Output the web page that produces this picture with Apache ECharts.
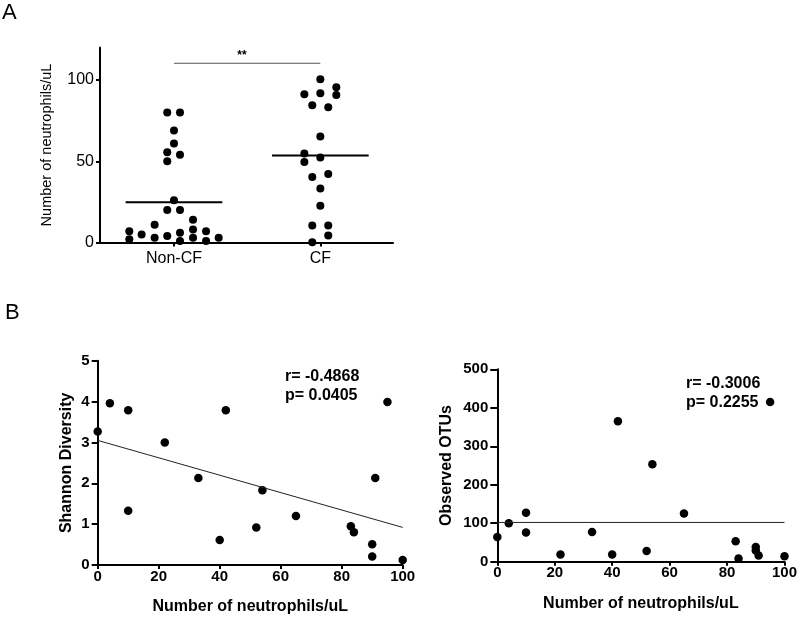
<!DOCTYPE html>
<html>
<head>
<meta charset="utf-8">
<script src="https://cdn.jsdelivr.net/npm/echarts@6/dist/echarts.min.js"></script>
<style>
  html, body { margin: 0; padding: 0; background: #fff; }
  #main { width: 800px; height: 619px; }
</style>
</head>
<body>
<div id="main"></div>
<script>
// panel A: neutrophil counts per group (x = jittered group position)
const groupLabels = ['Non-CF', 'CF']
const groupCenters = [0.505, 1.504]
const nonCfX = [0.459, 0.546, 0.505, 0.505, 0.459, 0.546, 0.459, 0.505, 0.459, 0.546, 0.635, 0.373,
  0.2, 0.284, 0.459, 0.546, 0.635, 0.724, 0.2, 0.373, 0.546, 0.635, 0.724, 0.81]
const nonCfY = [80, 80, 69, 61, 55.5, 54, 50, 26, 20, 20, 14, 11,
  7, 5, 4, 6, 8, 7, 2, 3, 1, 3, 1, 3]
const cfX = [1.504, 1.613, 1.395, 1.504, 1.613, 1.449, 1.558, 1.504, 1.395, 1.504, 1.395, 1.558,
  1.449, 1.504, 1.504, 1.449, 1.558, 1.558, 1.449]
const cfY = [100.4, 95.5, 91.2, 91.8, 90.7, 84.4, 83.3, 65.2, 54.7, 52.3, 49.6, 42.2,
  40.3, 33.3, 22.6, 10.5, 10.5, 4.3, 0.2]
const groupMeans = [24.7, 53.5]
const sigBarY = 110.3

// panel B: correlations
const neutrophils = [0, 4, 10, 10, 22, 33, 40, 42, 52, 54, 65, 83, 84, 90, 90, 91, 95, 100]
const shannon = [3.27, 3.96, 3.79, 1.33, 3.0, 2.13, 0.61, 3.79, 0.92, 1.83, 1.2, 0.95, 0.8, 0.51, 0.21, 2.13, 3.99, 0.12]
const otus = [64, 100, 127, 76, 19, 77, 19, 365, 28, 253, 125, 53, 8, 38, 29, 16, 415, 14]
const shannonFit = [[0, 3.05], [100, 0.92]]
const otuFit = [[0, 102], [100, 102]]

const FONT = 'Liberation Sans, Arial, sans-serif'
const zip = (xs, ys) => xs.map((x, i) => [x, ys[i]])
const meanHalf = 0.33

const axisLine = { show: true, lineStyle: { color: '#000', width: 2 } }
const boldLabel = { color: '#000', fontFamily: FONT, fontSize: 15, fontWeight: 'bold' }
const dot = { color: '#000', opacity: 1 }

const chart = echarts.init(document.getElementById('main'))

const option = {
  animation: false,
  grid: [
    { left: 100, right: 407, top: 47.5, bottom: 376.5 },
    { left: 97.7, right: 397.3, top: 360.7, bottom: 54 },
    { left: 497.3, right: 12.7, top: 369.3, bottom: 57.3 }
  ],
  xAxis: [
    {
      gridIndex: 0, type: 'value', min: 0, max: 2,
      axisLine: axisLine,
      axisTick: { show: true, length: 4, customValues: groupCenters, lineStyle: { color: '#000', width: 2 } },
      axisLabel: {
        customValues: groupCenters, margin: 8,
        formatter: v => groupLabels[groupCenters.indexOf(v)],
        color: '#000', fontFamily: FONT, fontSize: 16
      },
      splitLine: { show: false }
    },
    {
      gridIndex: 1, type: 'value', min: 0, max: 100, interval: 20,
      name: 'Number of neutrophils/uL', nameLocation: 'middle', nameGap: 34,
      nameTextStyle: { color: '#000', fontFamily: FONT, fontSize: 16, fontWeight: 'bold' },
      axisLine: axisLine,
      axisTick: { show: true, length: 4, lineStyle: { color: '#000', width: 2 } },
      axisLabel: Object.assign({ margin: 4 }, boldLabel),
      splitLine: { show: false }
    },
    {
      gridIndex: 2, type: 'value', min: 0, max: 100, interval: 20,
      name: 'Number of neutrophils/uL', nameLocation: 'middle', nameGap: 34,
      nameTextStyle: { color: '#000', fontFamily: FONT, fontSize: 16, fontWeight: 'bold' },
      axisLine: axisLine,
      axisTick: { show: true, length: 4, lineStyle: { color: '#000', width: 2 } },
      axisLabel: Object.assign({ margin: 4 }, boldLabel),
      splitLine: { show: false }
    }
  ],
  yAxis: [
    {
      gridIndex: 0, type: 'value', min: 0, max: 120,
      name: 'Number of neutrophils/uL', nameLocation: 'middle', nameGap: 46,
      nameTextStyle: { color: '#000', fontFamily: FONT, fontSize: 14.5 },
      axisLine: axisLine,
      axisTick: { show: true, length: 4, customValues: [0, 50, 100], lineStyle: { color: '#000', width: 2 } },
      axisLabel: { customValues: [0, 50, 100], margin: 6, color: '#000', fontFamily: FONT, fontSize: 16 },
      splitLine: { show: false }
    },
    {
      gridIndex: 1, type: 'value', min: 0, max: 5, interval: 1,
      name: 'Shannon Diversity', nameLocation: 'middle', nameGap: 23,
      nameTextStyle: { color: '#000', fontFamily: FONT, fontSize: 16, fontWeight: 'bold' },
      axisLine: axisLine,
      axisTick: { show: true, length: 6, lineStyle: { color: '#000', width: 2 } },
      axisLabel: Object.assign({ margin: 8 }, boldLabel),
      splitLine: { show: false }
    },
    {
      gridIndex: 2, type: 'value', min: 0, max: 500, interval: 100,
      name: 'Observed OTUs', nameLocation: 'middle', nameGap: 43,
      nameTextStyle: { color: '#000', fontFamily: FONT, fontSize: 16, fontWeight: 'bold' },
      axisLine: axisLine,
      axisTick: { show: true, length: 7, lineStyle: { color: '#000', width: 2 } },
      axisLabel: Object.assign({ margin: 9 }, boldLabel),
      splitLine: { show: false }
    }
  ],
  series: [
    {
      name: 'Non-CF', type: 'scatter', xAxisIndex: 0, yAxisIndex: 0, clip: false,
      symbolSize: 8, itemStyle: dot, data: zip(nonCfX, nonCfY)
    },
    {
      name: 'CF', type: 'scatter', xAxisIndex: 0, yAxisIndex: 0, clip: false,
      symbolSize: 8, itemStyle: dot, data: zip(cfX, cfY)
    },
    ...groupMeans.map((m, i) => ({
      type: 'line', xAxisIndex: 0, yAxisIndex: 0, symbol: 'none',
      lineStyle: { color: '#000', width: 2 },
      data: [[groupCenters[i] - meanHalf, m], [groupCenters[i] + meanHalf, m]]
    })),
    {
      type: 'line', xAxisIndex: 0, yAxisIndex: 0, symbol: 'none',
      lineStyle: { color: '#555', width: 1 },
      data: [[groupCenters[0], sigBarY], [groupCenters[1], sigBarY]]
    },
    {
      type: 'scatter', xAxisIndex: 1, yAxisIndex: 1, clip: false,
      symbolSize: 8.5, itemStyle: dot, data: zip(neutrophils, shannon)
    },
    {
      type: 'line', xAxisIndex: 1, yAxisIndex: 1, symbol: 'none',
      lineStyle: { color: '#222', width: 1 }, data: shannonFit
    },
    {
      type: 'scatter', xAxisIndex: 2, yAxisIndex: 2, clip: false,
      symbolSize: 8.5, itemStyle: dot, data: zip(neutrophils, otus)
    },
    {
      type: 'line', xAxisIndex: 2, yAxisIndex: 2, symbol: 'none',
      lineStyle: { color: '#222', width: 1 }, data: otuFit
    }
  ],
  graphic: [
    { type: 'text', left: 2, top: 2, style: { text: 'A', font: '22px ' + FONT, fill: '#000' } },
    { type: 'text', left: 5, top: 302, style: { text: 'B', font: '22px ' + FONT, fill: '#000' } },
    { type: 'text', x: 242, y: 56, style: { text: '**', font: 'bold 12px ' + FONT, fill: '#000', textAlign: 'center', textVerticalAlign: 'middle' } },
    { type: 'text', x: 285, y: 377, style: { text: 'r= -0.4868', font: 'bold 16px ' + FONT, fill: '#000', textVerticalAlign: 'middle' } },
    { type: 'text', x: 285, y: 396, style: { text: 'p= 0.0405', font: 'bold 16px ' + FONT, fill: '#000', textVerticalAlign: 'middle' } },
    { type: 'text', x: 686, y: 384, style: { text: 'r= -0.3006', font: 'bold 16px ' + FONT, fill: '#000', textVerticalAlign: 'middle' } },
    { type: 'text', x: 686, y: 403, style: { text: 'p= 0.2255', font: 'bold 16px ' + FONT, fill: '#000', textVerticalAlign: 'middle' } }
  ]
}

chart.setOption(option)
</script>
</body>
</html>
